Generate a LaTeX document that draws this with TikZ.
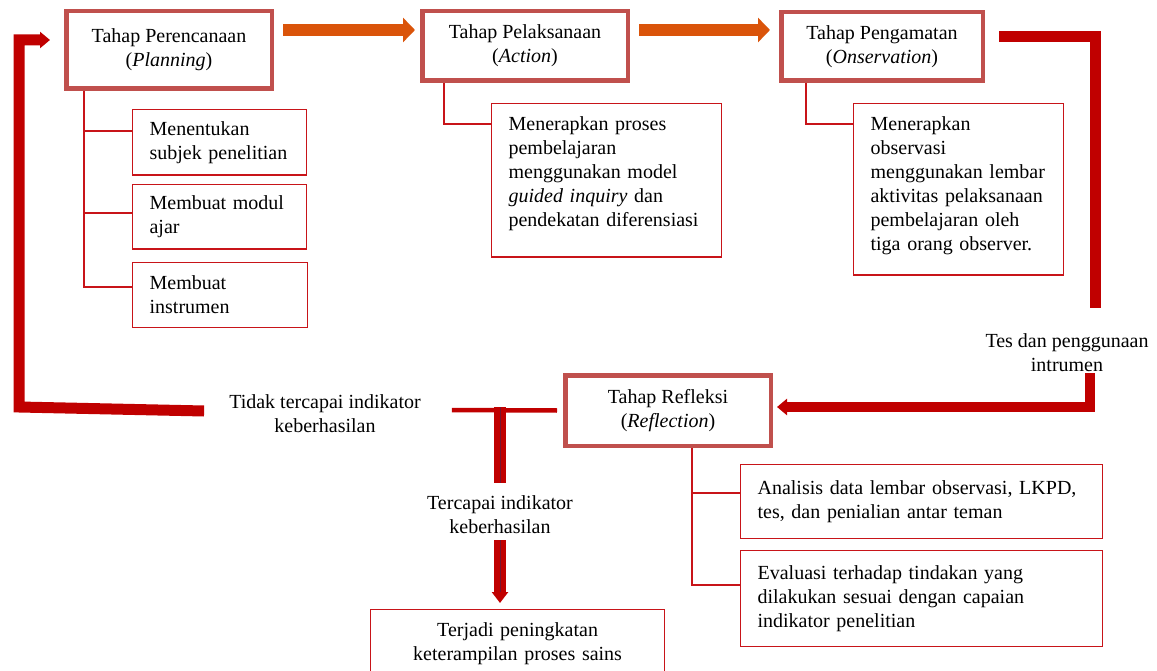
\documentclass[tikz,border=0pt]{standalone}
\usepackage{fontspec}
\setmainfont{Liberation Serif}
\usepackage{xcolor}
\usepackage{tikz}
\usetikzlibrary{arrows.meta}
\usetikzlibrary{calc}

\definecolor{bordo}{RGB}{192,80,77}
\definecolor{merah}{RGB}{192,0,0}
\definecolor{garis}{RGB}{200,20,25}
\definecolor{oranye}{RGB}{218,84,10}
\definecolor{gelap}{RGB}{120,20,45}

\begin{document}
\begin{tikzpicture}[x=1pt,y=-1pt,
	every node/.style={font=\fontsize{20}{24}\selectfont},
	tahap/.style={draw=bordo,line width=4.5pt,fill=white,anchor=north west,align=center,inner sep=0pt},
	isi/.style={draw=garis,line width=1.2pt,fill=white,anchor=north west,align=left,inner xsep=17pt,inner ysep=0pt},
	ket/.style={align=center,inner sep=0pt},
	cabang/.style={garis,line width=1.4pt},
	panah/.style={oranye,line width=12pt,-{Triangle[length=12pt,width=24pt]}},
	balik/.style={merah,line width=11pt}]
			\useasboundingbox (0,0) rectangle (1157,671);
			\clip (0,0) rectangle (1157,671);
			
			%tahap utama
			\node[tahap,minimum width=205.5pt,minimum height=77.5pt] (plan) at (64,9) {Tahap Perencanaan\\(\textit{Planning})};
			\node[tahap,minimum width=205.5pt,minimum height=69.5pt] (act) at (420,9) {Tahap Pelaksanaan\\(\textit{Action})};
			\node[tahap,minimum width=201.5pt,minimum height=68.5pt] (obs) at (779,10) {Tahap Pengamatan\\(\textit{Onservation})};
			\node[tahap,minimum width=205.5pt,minimum height=70.5pt] (refl) at (563,373) {Tahap Refleksi\\(\textit{Reflection})};
			
			%kotak isi
			\node[isi,text width=140pt,minimum height=65.5pt] (ms1) at (132,109) {Menentukan\\subjek penelitian};
			\node[isi,text width=140pt,minimum height=64.5pt] (ms2) at (132,184) {Membuat modul\\ajar};
			\node[isi,text width=141pt,minimum height=64.5pt] (ms3) at (132,262) {Membuat\\instrumen};
			\node[isi,text width=196pt,minimum height=153.5pt] (as1) at (491,103) {Menerapkan proses\\pembelajaran\\menggunakan model\\\textit{guided inquiry} dan\\pendekatan diferensiasi\rule[-17pt]{0pt}{17pt}};
			\node[isi,text width=176pt,minimum height=171.5pt] (os1) at (853,103) {Menerapkan\\observasi\\menggunakan lembar\\aktivitas pelaksanaan\\pembelajaran oleh\\tiga orang observer.\rule[-11pt]{0pt}{11pt}};
			\node[isi,text width=328pt,minimum height=73.5pt] (rs1) at (740,464) {Analisis data lembar observasi, LKPD,\\tes, dan penialian antar teman};
			\node[isi,text width=328pt,minimum height=95.5pt] (rs2) at (740,550) {Evaluasi terhadap tindakan yang\\dilakukan sesuai dengan capaian\\indikator penelitian};
			\node[isi,align=center,text width=260pt,minimum height=68pt] (hasil) at (370,609) {Terjadi peningkatan\\keterampilan proses sains};
			
			%keterangan
			\node[ket] (tes) at (1067,352.5) {Tes dan penggunaan\\intrumen};
			\node[ket] (tidak) at (325,414) {Tidak tercapai indikator\\keberhasilan};
			\node[ket] (tercapai) at (500,515) {Tercapai indikator\\keberhasilan};
			\coordinate (kanan) at (1095,308);
			\coordinate (tesbawah) at (1090,373);
			\coordinate (simpang) at (500,407);
			
			%cabang ke kotak isi
			\draw[cabang] ($(plan.south west)+(20,0)$) |- ($(ms1.north west)+(0,22)$);
			\draw[cabang] ($(plan.south west)+(20,0)$) |- ($(ms2.north west)+(0,29)$);
			\draw[cabang] ($(plan.south west)+(20,0)$) |- ($(ms3.north west)+(0,25)$);
			\draw[cabang] ($(act.south west)+(24,0)$) |- ($(as1.north west)+(0,21)$);
			\draw[cabang] ($(obs.south west)+(27,0)$) |- ($(os1.north west)+(0,21)$);
			\draw[cabang] ($(refl.south west)+(129,0)$) |- ($(rs1.north west)+(0,29)$);
			\draw[cabang] ($(refl.south west)+(129,0)$) |- ($(rs2.north west)+(0,35)$);
			
			%panah oranye
			\draw[panah] ($(plan.east)+(9,-20)$) -- ($(act.west)+(-5,-16)$);
			\draw[panah] ($(act.east)+(9,-16)$) -- ($(obs.west)+(-9,-16.5)$);
			
			%siklus kembali
			\draw[balik] ($(obs.east)+(14,-9.5)$) -| (kanan);
			\draw[balik,line width=10pt,-{Triangle[length=10pt,width=16pt]}] (tesbawah) |- ($(refl.east)+(4,-3.5)$);
			\draw[balik,line width=11pt,-{Triangle[length=10pt,width=16pt]}] ($(tidak.west)+(-25,-3)$) -- (19,407) -- (19,40) -- ($(plan.west)+(-14,-10)$);
			
			%percabangan hasil
			\draw[merah,line width=4.5pt] ($(tidak.east)+(31,-4)$) -- ($(refl.west)+(-6,0)$);
			\draw[merah,line width=12pt] (simpang) -- ($(tercapai.north)+(0,-13)$);
			\draw[gelap,line width=0.8pt] (simpang) -- ($(tercapai.north)+(0,-13)$);
			\draw[merah,line width=12pt,-{Triangle[length=11pt,width=16pt]}] ($(tercapai.south)+(0,6)$) -- ($(hasil.north -| tercapai.south)+(0,-6)$);
			\draw[gelap,line width=0.8pt] ($(tercapai.south)+(0,6)$) -- ($(hasil.north -| tercapai.south)+(0,-17)$);
\end{tikzpicture}
\end{document}
